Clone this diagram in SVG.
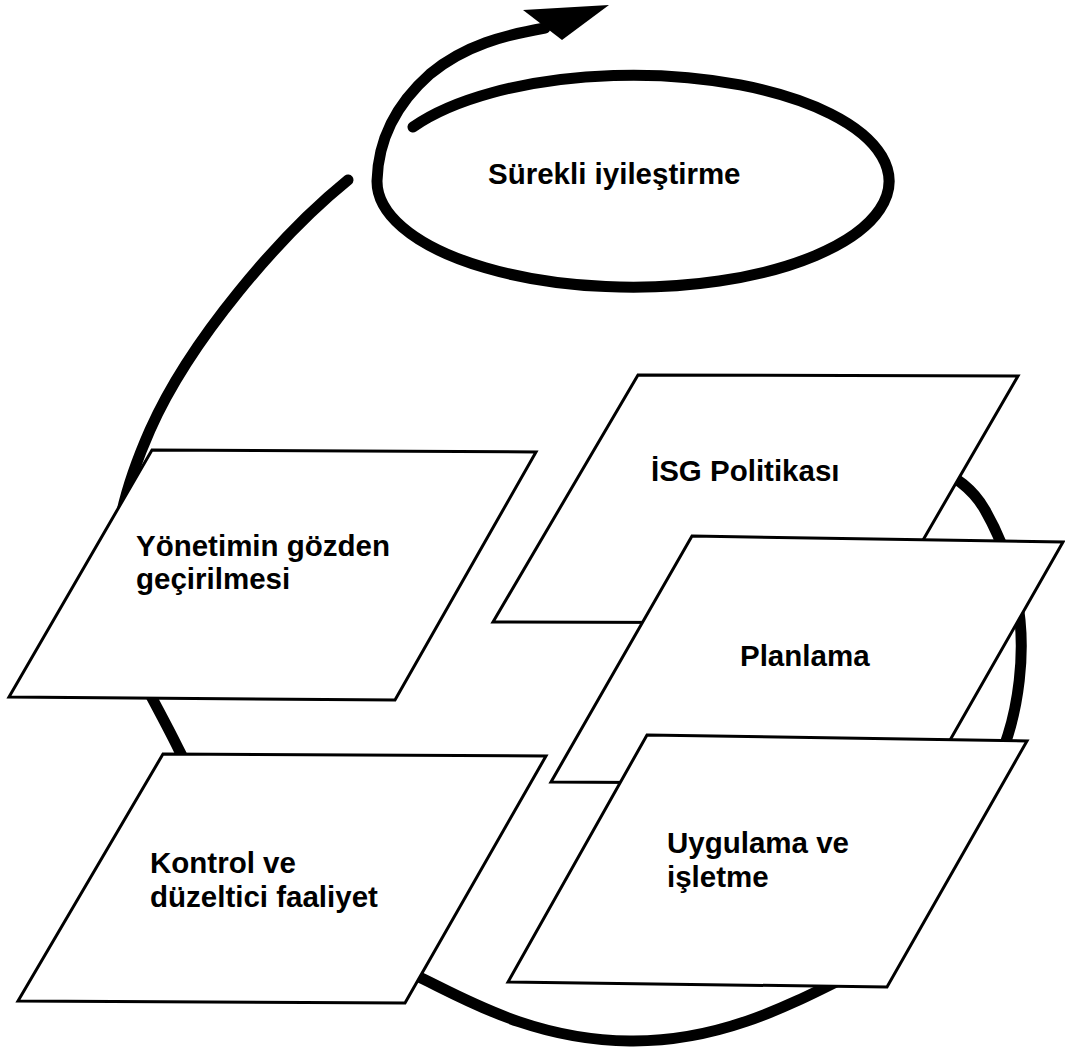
<svg xmlns="http://www.w3.org/2000/svg" width="1065" height="1051" viewBox="0 0 1065 1051">
  <style>
    .node { fill: #ffffff; stroke: #000000; stroke-width: 3; stroke-linejoin: miter; }
    .lbl { font-family: "Liberation Sans", Arial, sans-serif; font-weight: bold; font-size: 29.5px; fill: #000000; }
    .loop { fill: none; stroke: #000000; stroke-width: 11; stroke-linecap: round; stroke-linejoin: round; }
    .big { fill: none; stroke: #000000; stroke-width: 11; stroke-linecap: round; }
  </style>
  <rect x="0" y="0" width="1065" height="1051" fill="#ffffff"/>

  <g id="connectors">
    <!-- large cycle arc (partly hidden behind the nodes) -->
    <path class="big" d="M 348,180 C 280,235 190,340 150,430 C 128,480 108,540 118,600 C 120,650 150,690 180,752 C 240,876 335,937 415,975 C 460,996 530,1040 630,1041 C 720,1042 790,1005 850,975 C 905,940 975,840 1008,735 C 1018,703 1024,660 1020,620 C 1016,580 1005,545 985,510 C 972,487 952,474 930,466"/>
    <!-- continual improvement spiral with arrow -->
    <path class="loop" d="M 413,127 A 256 106 0 1 1 377,181 C 378,140 395,105 430,74 C 465,45 505,35 545,28"/>
    <polygon points="523,10 609,5 562,40" fill="#000000"/>
  </g>

  <g id="node-surekli">
    <text class="lbl" x="488" y="184">Sürekli iyileştirme</text>
  </g>

  <g id="node-isg">
    <polygon class="node" points="638,375 1018,376 875,623 493,622"/>
    <text class="lbl" x="651" y="481">İSG Politikası</text>
  </g>

  <g id="node-planlama">
    <polygon class="node" points="692,536 1063,542 925,784 551,782"/>
    <text class="lbl" x="740" y="666">Planlama</text>
  </g>

  <g id="node-uygulama">
    <polygon class="node" points="647,735 1027,741 887,987 508,982"/>
    <text class="lbl" x="667" y="853">Uygulama ve</text>
    <text class="lbl" x="667" y="887">işletme</text>
  </g>

  <g id="node-yonetim">
    <polygon class="node" points="152,450 536,452 395,700 9,697"/>
    <text class="lbl" x="136" y="556">Yönetimin gözden</text>
    <text class="lbl" x="136" y="589">geçirilmesi</text>
  </g>

  <g id="node-kontrol">
    <polygon class="node" points="163,754 546,756 405,1003 18,1001"/>
    <text class="lbl" x="150" y="873">Kontrol ve</text>
    <text class="lbl" x="150" y="907">düzeltici faaliyet</text>
  </g>
</svg>
